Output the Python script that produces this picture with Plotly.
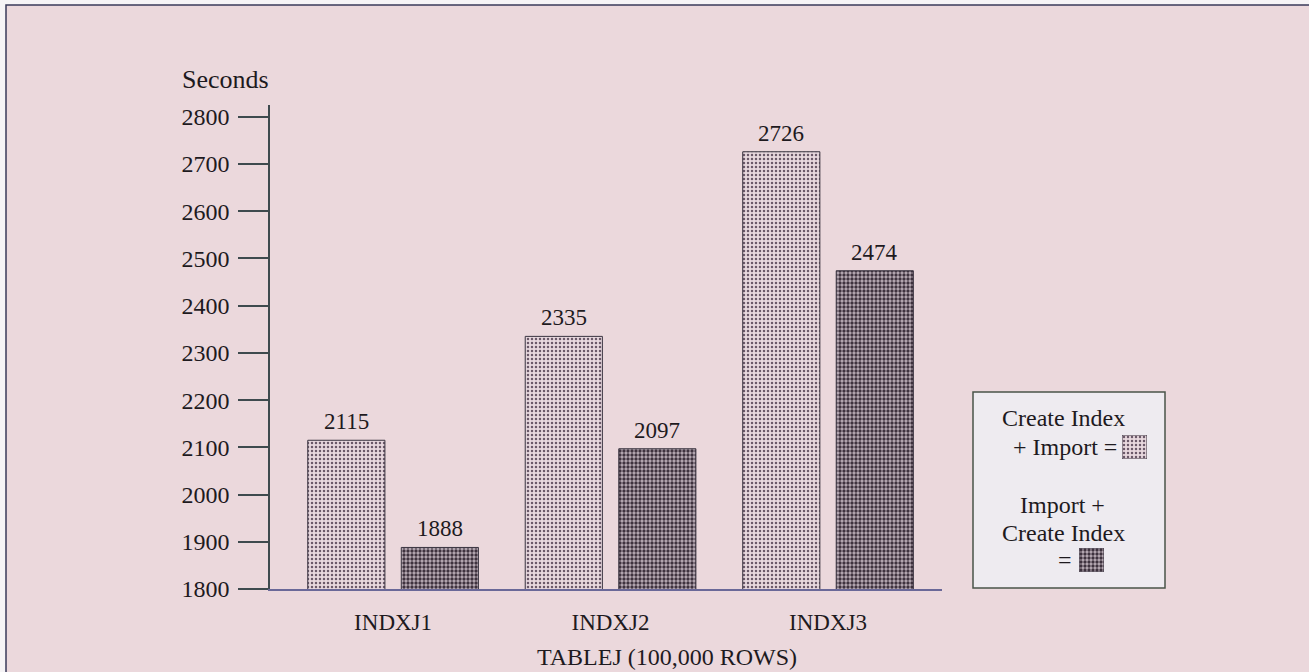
import plotly.graph_objects as go

# ---- data ----
categories = ["INDXJ1", "INDXJ2", "INDXJ3"]
create_index_then_import = [2115, 2335, 2726]
import_then_create_index = [1888, 2097, 2474]
y_ticks = [1800, 1900, 2000, 2100, 2200, 2300, 2400, 2500, 2600, 2700, 2800]

W, H = 1309, 672
def px(x):
    return x / W
def py(y):
    return 1 - y / H

FONT = "Liberation Serif, Times New Roman, serif"
TXT = "#1e1a1e"
PINK = "#ebd8dc"

xpos = list(range(len(categories)))
BARGAP = 0.14
GROUPGAP = 0.175
slot = (1 - BARGAP) / 2

light_pat = dict(shape=".", size=4, solidity=0.3, fgcolor="#6a5868", bgcolor="#e8d8de", fillmode="replace")
dark_pat = dict(shape=".", size=4, solidity=0.55, fgcolor="#3e323e", bgcolor="#bcaeb8", fillmode="replace")
bar_line = dict(color="#3a3440", width=1)

fig = go.Figure()
fig.add_trace(go.Bar(x=xpos, y=create_index_then_import, name="Create Index + Import",
                     marker=dict(color="#e8d8de", pattern=light_pat, line=bar_line),
                     showlegend=False, hoverinfo="skip"))
fig.add_trace(go.Bar(x=xpos, y=import_then_create_index, name="Import + Create Index",
                     marker=dict(color="#bcaeb8", pattern=dark_pat, line=bar_line),
                     showlegend=False, hoverinfo="skip"))

# legend swatches drawn as bars on tiny axes
fig.add_trace(go.Bar(x=[0], y=[1], width=[1], xaxis="x2", yaxis="y2",
                     marker=dict(color="#e8d8de", pattern=light_pat, line=bar_line),
                     showlegend=False, hoverinfo="skip"))
fig.add_trace(go.Bar(x=[0], y=[1], width=[1], xaxis="x3", yaxis="y3",
                     marker=dict(color="#bcaeb8", pattern=dark_pat, line=bar_line),
                     showlegend=False, hoverinfo="skip"))

annotations = []
for i, (a, b) in enumerate(zip(create_index_then_import, import_then_create_index)):
    for xv, v in ((i - slot / 2, a), (i + slot / 2, b)):
        annotations.append(dict(x=xv, y=v, xref="x", yref="y", text=str(v), showarrow=False,
                                yanchor="bottom", yshift=4, font=dict(family=FONT, size=23, color=TXT)))

def lab(x, y, text, anchor="center", size=24):
    return dict(x=px(x), y=py(y), xref="paper", yref="paper", text=text, showarrow=False,
                xanchor=anchor, yanchor="middle", font=dict(family=FONT, size=size, color=TXT))

annotations += [
    lab(180, 79, "Seconds", "left", 26),
    lab(667, 657, "TABLEJ (100,000 ROWS)", "center", 24),
    lab(1063, 418, "Create Index"),
    lab(1119, 447, "+ Import =", "right"),
    lab(1062, 505, "Import +"),
    lab(1063, 533, "Create Index"),
    lab(1074, 560, "=", "right"),
]

shapes = [
    # page frame
    dict(type="rect", xref="paper", yref="paper", x0=px(6), x1=px(1330), y0=py(700), y1=py(5),
         fillcolor=PINK, line=dict(color="#3a3a5a", width=1.5), layer="below"),
    # legend box
    dict(type="rect", xref="paper", yref="paper", x0=px(973), x1=px(1165), y0=py(588), y1=py(392),
         fillcolor="#eeebf0", line=dict(color="#4a5448", width=1.5), layer="below"),
]

fig.update_layout(
    template="none",
    width=W, height=H,
    margin=dict(l=0, r=0, t=0, b=0, pad=0, autoexpand=False),
    paper_bgcolor="#f6f4f6",
    plot_bgcolor="rgba(0,0,0,0)",
    barmode="group", bargap=BARGAP, bargroupgap=GROUPGAP,
    font=dict(family=FONT, size=23, color=TXT),
    xaxis=dict(domain=[px(270), px(942)], range=[-0.566, 2.524], automargin=False,
               tickmode="array", tickvals=xpos, ticktext=categories,
               showline=True, linecolor="#6a6898", linewidth=2,
               ticks="", showgrid=False, zeroline=False, ticklabelstandoff=11,
               tickfont=dict(family=FONT, size=23, color=TXT), fixedrange=True),
    yaxis=dict(domain=[py(589), py(105)], range=[1800, 2825], automargin=False,
               tickmode="array", tickvals=y_ticks, ticktext=[str(t) for t in y_ticks],
               showline=True, linecolor="#3e4a4e", linewidth=1.5,
               ticks="outside", ticklen=30, tickwidth=1.5, tickcolor="#3e4a4e",
               showgrid=False, zeroline=False, ticklabelstandoff=4,
               tickfont=dict(family=FONT, size=24, color=TXT), fixedrange=True),
    xaxis2=dict(domain=[px(1122), px(1147)], range=[-0.5, 0.5], anchor="y2", visible=False,
                automargin=False, fixedrange=True),
    yaxis2=dict(domain=[py(459), py(435)], range=[0, 1], anchor="x2", visible=False,
                automargin=False, fixedrange=True),
    xaxis3=dict(domain=[px(1079), px(1104)], range=[-0.5, 0.5], anchor="y3", visible=False,
                automargin=False, fixedrange=True),
    yaxis3=dict(domain=[py(572), py(548)], range=[0, 1], anchor="x3", visible=False,
                automargin=False, fixedrange=True),
    annotations=annotations,
    shapes=shapes,
)

fig.write_html("out.html")
